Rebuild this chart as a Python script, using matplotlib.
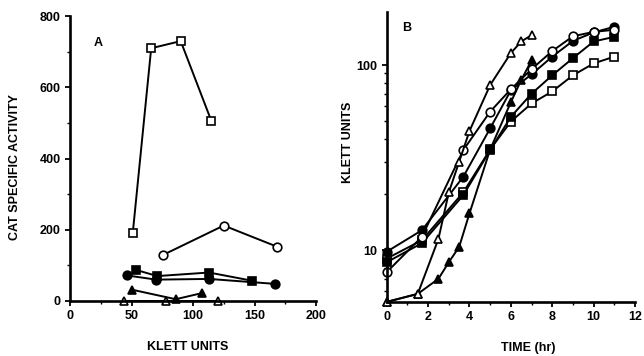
import numpy as np
import matplotlib
matplotlib.use("Agg")
import matplotlib.pyplot as plt
from matplotlib.ticker import MultipleLocator, FixedLocator, NullFormatter, LogLocator

plt.rcParams['font.family'] = ['Liberation Sans', 'DejaVu Sans']
plt.rcParams['font.weight'] = 'bold'
plt.rcParams['font.size'] = 9

# panel A: CAT specific activity vs Klett units
a_open_sq_x = [51, 66, 90, 115]
a_open_sq_y = [190, 710, 730, 505]
a_open_ci_x = [76, 125, 168]
a_open_ci_y = [130, 212, 153]
a_fill_sq_x = [54, 71, 113, 148]
a_fill_sq_y = [87, 70, 80, 57]
a_fill_ci_x = [46, 70, 113, 167]
a_fill_ci_y = [72, 60, 62, 48]
a_fill_tr_x = [50, 86, 107]
a_fill_tr_y = [32, 5, 22]
a_open_tr_x = [44, 78, 120]
a_open_tr_y = [0, 0, 0]

# panel B: growth curves (Klett units vs time)
b_open_tr_t = [0, 1.5, 2.5, 3.0, 3.5, 4.0, 5.0, 6.0, 6.5, 7.0]
b_open_tr_y = [5.25, 5.8, 11.5, 20.5, 30, 44, 78, 116, 134, 145]
b_fill_tr_t = [0, 1.5, 2.5, 3.0, 3.5, 4.0, 5.0, 6.0, 6.5, 7.0]
b_fill_tr_y = [5.25, 5.8, 7.0, 8.6, 10.4, 15.8, 35, 63, 83, 106]
b_open_ci_t = [0, 1.7, 3.7, 5.0, 6.0, 7.0, 8.0, 9.0, 10.0, 11.0]
b_open_ci_y = [7.6, 11.8, 34.7, 56, 74, 95, 119, 143, 151, 155]
b_fill_ci_t = [0, 1.7, 3.7, 5.0, 6.0, 7.0, 8.0, 9.0, 10.0, 11.0]
b_fill_ci_y = [9.8, 12.8, 24.9, 45.5, 73, 89, 111, 135, 150, 161]
b_fill_sq_t = [0, 1.7, 3.7, 5.0, 6.0, 7.0, 8.0, 9.0, 10.0, 11.0]
b_fill_sq_y = [8.6, 10.9, 19.8, 34.7, 52.5, 70, 88, 109, 134, 142]
b_open_sq_t = [0, 1.7, 3.7, 5.0, 6.0, 7.0, 8.0, 9.0, 10.0, 11.0]
b_open_sq_y = [9.0, 11.3, 20.5, 35, 49.5, 62, 72, 88, 102, 111]

fig = plt.figure(figsize=(6.44, 3.56), dpi=100)
axA = fig.add_axes([0.1087, 0.1545, 0.382, 0.80])
axB = fig.add_axes([0.6005, 0.152, 0.3856, 0.815])

kw = dict(color='black', lw=1.4, ms=6.2, mew=1.2, clip_on=False)

def styled(ax):
    for s in ['top', 'right']:
        ax.spines[s].set_visible(False)
    for s in ['left', 'bottom']:
        ax.spines[s].set_linewidth(1.9)
    ax.tick_params(which='major', direction='out', length=3.5, width=1.3, pad=3)
    ax.tick_params(which='minor', direction='out', length=2, width=1)

# panel A
axA.plot(a_open_sq_x, a_open_sq_y, marker='s', mfc='white', mec='black', **kw)
axA.plot(a_open_ci_x, a_open_ci_y, marker='o', mfc='white', mec='black', **kw)
axA.plot(a_fill_sq_x, a_fill_sq_y, marker='s', mfc='black', mec='black', **kw)
axA.plot(a_fill_ci_x, a_fill_ci_y, marker='o', mfc='black', mec='black', **kw)
axA.plot(a_fill_tr_x, a_fill_tr_y, marker='^', mfc='black', mec='black', **kw)
axA.plot(a_open_tr_x, a_open_tr_y, marker='^', mfc='white', mec='black', **kw)
axA.set_xlim(0, 200)
axA.set_ylim(0, 800)
axA.set_xticks([0, 50, 100, 150, 200])
axA.set_yticks([0, 200, 400, 600, 800])
axA.xaxis.set_minor_locator(MultipleLocator(25))
axA.yaxis.set_minor_locator(MultipleLocator(100))
styled(axA)
axA.set_xlabel('KLETT UNITS', fontweight='bold')
axA.set_ylabel('CAT SPECIFIC ACTIVITY', fontweight='bold')
axA.xaxis.set_label_coords(0.48, -0.142)
axA.yaxis.set_label_coords(-0.2, 0.47)
axA.text(0.114, 0.905, 'A', transform=axA.transAxes, ha='center', va='center', fontweight='bold', fontsize=9)

# panel B
axB.plot(b_open_sq_t, b_open_sq_y, marker='s', mfc='white', mec='black', **kw)
axB.plot(b_fill_sq_t, b_fill_sq_y, marker='s', mfc='black', mec='black', **kw)
axB.plot(b_fill_ci_t, b_fill_ci_y, marker='o', mfc='black', mec='black', **kw)
axB.plot(b_open_ci_t, b_open_ci_y, marker='o', mfc='white', mec='black', **kw)
axB.plot(b_fill_tr_t, b_fill_tr_y, marker='^', mfc='black', mec='black', **kw)
axB.plot(b_open_tr_t, b_open_tr_y, marker='^', mfc='white', mec='black', **kw)
axB.set_yscale('log')
axB.set_xlim(0, 12)
axB.set_ylim(5.25, 194)
axB.set_xticks([0, 2, 4, 6, 8, 10, 12])
axB.xaxis.set_minor_locator(MultipleLocator(1))
axB.yaxis.set_major_locator(FixedLocator([10, 100]))
axB.yaxis.set_major_formatter(matplotlib.ticker.FixedFormatter(['10', '100']))
axB.yaxis.set_minor_locator(LogLocator(base=10, subs=np.arange(2, 10)))
axB.yaxis.set_minor_formatter(NullFormatter())
styled(axB)
axB.set_xlabel('TIME (hr)', fontweight='bold')
axB.set_ylabel('KLETT UNITS', fontweight='bold')
axB.xaxis.set_label_coords(0.57, -0.138)
axB.yaxis.set_label_coords(-0.13, 0.55)
axB.text(0.082, 0.945, 'B', transform=axB.transAxes, ha='center', va='center', fontweight='bold', fontsize=9)

for ax in (axA, axB):
    for lab in ax.get_xticklabels() + ax.get_yticklabels():
        lab.set_fontweight('bold')

fig.savefig('out.png', dpi=100)
